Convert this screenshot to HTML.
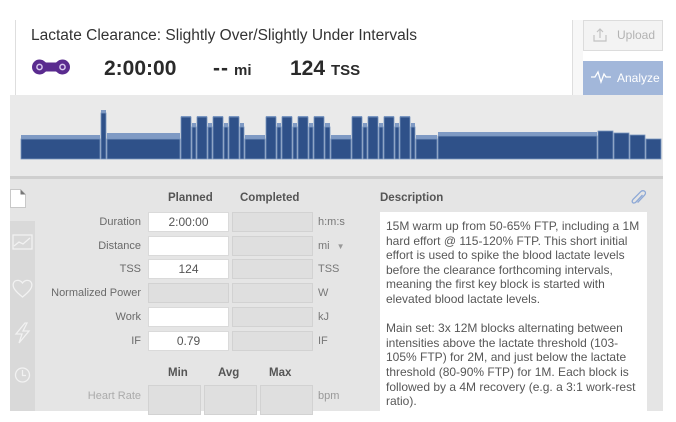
<!DOCTYPE html>
<html><head><meta charset="utf-8"><style>
*{margin:0;padding:0;box-sizing:border-box}
html,body{width:676px;height:411px;overflow:hidden;background:#fff;font-family:"Liberation Sans",Arial,sans-serif;}
.a{position:absolute}
.lbl{position:absolute;left:0;width:141px;text-align:right;font-size:11px;color:#6a6a6a;height:20px;line-height:20px;white-space:nowrap}
.unit{position:absolute;left:318px;font-size:11px;color:#777;height:20px;line-height:20px}
.inw{position:absolute;left:148px;width:81px;height:20px;background:#fff;border:1px solid #dadada;text-align:center;font-size:12px;color:#555;line-height:18px}
.ing{position:absolute;width:81px;height:20px;background:#dfdfdf;border:1px solid #d2d2d2}
.hd{position:absolute;font-size:11.5px;font-weight:bold;color:#555;white-space:nowrap}
.desc{position:absolute;left:386px;top:219px;font-size:12px;line-height:14.6px;color:#575757;white-space:nowrap}
</style></head><body>

<!-- top card -->
<div class="a" style="left:15px;top:20px;width:558px;height:75px;background:#fff;border-left:1px solid #dedede;border-right:1px solid #dedede;"></div>
<div class="a" style="left:573px;top:20px;width:10px;height:75px;background:#f7f7f7;"></div>
<div class="a" style="left:31px;top:27px;font-size:15.5px;line-height:18px;color:#333;white-space:nowrap;">Lactate Clearance: Slightly Over/Slightly Under Intervals</div>

<svg class="a" style="left:30px;top:58px" width="44" height="18" viewBox="0 0 44 18">
  <path d="M9.5 1.5 C13 1.5 14.5 3.5 16 4.5 L26 4.5 C27.5 3.5 29 1.5 32.5 1.5 A7.5 7.5 0 0 1 32.5 16.5 C29 16.5 27.5 14.5 26 13.5 L16 13.5 C14.5 14.5 13 16.5 9.5 16.5 A7.5 7.5 0 0 1 9.5 1.5 Z" fill="#5a2b8f"/>
  <circle cx="9.5" cy="9" r="2.6" fill="none" stroke="#d8c8ee" stroke-width="1.5"/>
  <circle cx="32.5" cy="9" r="2.6" fill="none" stroke="#d8c8ee" stroke-width="1.5"/>
</svg>
<div class="a" style="left:104px;top:58px;font-size:21px;line-height:22px;font-weight:bold;color:#2a2a2a;">2:00:00</div>
<div class="a" style="left:213px;top:58px;font-size:21px;line-height:22px;font-weight:bold;color:#2a2a2a;letter-spacing:1px;">--</div>
<div class="a" style="left:234px;top:62px;font-size:15px;line-height:18px;font-weight:bold;color:#2a2a2a;">mi</div>
<div class="a" style="left:290px;top:58px;font-size:21px;line-height:22px;font-weight:bold;color:#2a2a2a;">124</div>
<div class="a" style="left:331px;top:62px;font-size:15px;line-height:18px;font-weight:bold;color:#2a2a2a;">TSS</div>

<!-- buttons -->
<div class="a" style="left:583px;top:20px;width:80px;height:31px;background:#f3f3f3;border:1px solid #dcdcdc;"></div>
<svg class="a" style="left:592px;top:27px" width="16" height="16" viewBox="0 0 16 16">
  <path d="M2 8 V14 H14 V8" fill="none" stroke="#c2c2c2" stroke-width="1.2"/>
  <path d="M8 11 V2 M5 5 L8 2 L11 5" fill="none" stroke="#c2c2c2" stroke-width="1.2"/>
</svg>
<div class="a" style="left:617px;top:27px;font-size:12px;line-height:16px;color:#b3b3b3;">Upload</div>
<div class="a" style="left:583px;top:61px;width:80px;height:34px;background:#a2b7da;"></div>
<svg class="a" style="left:590px;top:70px" width="22" height="14" viewBox="0 0 22 14">
  <path d="M1 7 H5 L8 2 L11 12 L14 4 L16 7 H21" fill="none" stroke="#fff" stroke-width="1.3"/>
</svg>
<div class="a" style="left:617px;top:70px;font-size:12px;line-height:16px;color:#fff;">Analyze</div>

<!-- chart area -->
<div class="a" style="left:10px;top:95px;width:653px;height:81px;background:#eaeaea;"></div>
<div class="a" style="left:10px;top:176px;width:653px;height:3px;background:#cfcfcf;"></div>
<svg class="a" style="left:0;top:0" width="676" height="180" viewBox="0 0 676 180">
<g fill="#7f9ac4">
<rect x="21" y="135" width="79" height="24"/>
<rect x="101" y="110" width="5" height="49"/>
<rect x="107" y="133" width="73" height="26"/>
<rect x="181" y="116" width="10" height="43"/><rect x="192" y="123" width="4" height="36"/>
<rect x="197" y="116" width="10" height="43"/><rect x="208" y="123" width="4" height="36"/>
<rect x="213" y="116" width="10" height="43"/><rect x="224" y="123" width="4" height="36"/>
<rect x="229" y="116" width="10" height="43"/><rect x="240" y="123" width="4" height="36"/>
<rect x="245" y="135" width="20" height="24"/>
<rect x="266" y="116" width="10" height="43"/><rect x="277" y="123" width="4" height="36"/>
<rect x="282" y="116" width="10" height="43"/><rect x="293" y="123" width="4" height="36"/>
<rect x="298" y="116" width="10" height="43"/><rect x="309" y="123" width="4" height="36"/>
<rect x="314" y="116" width="10" height="43"/><rect x="325" y="123" width="5" height="36"/>
<rect x="331" y="135" width="20" height="24"/>
<rect x="352" y="116" width="10" height="43"/><rect x="363" y="123" width="4" height="36"/>
<rect x="368" y="116" width="10" height="43"/><rect x="379" y="123" width="4" height="36"/>
<rect x="384" y="116" width="10" height="43"/><rect x="395" y="123" width="4" height="36"/>
<rect x="400" y="116" width="10" height="43"/><rect x="411" y="123" width="4" height="36"/>
<rect x="416" y="135" width="21" height="24"/>
<rect x="438" y="132" width="159" height="27"/>
</g>
<g fill="#2f5189" stroke="#7994be" stroke-width="0.8">
<rect x="21" y="139" width="79" height="20"/>
<rect x="101" y="113" width="5" height="46"/>
<rect x="107" y="139" width="73" height="20"/>
<rect x="181" y="117" width="10" height="42"/><rect x="192" y="127" width="4" height="32"/>
<rect x="197" y="117" width="10" height="42"/><rect x="208" y="127" width="4" height="32"/>
<rect x="213" y="117" width="10" height="42"/><rect x="224" y="127" width="4" height="32"/>
<rect x="229" y="117" width="10" height="42"/><rect x="240" y="127" width="4" height="32"/>
<rect x="245" y="139" width="20" height="20"/>
<rect x="266" y="117" width="10" height="42"/><rect x="277" y="127" width="4" height="32"/>
<rect x="282" y="117" width="10" height="42"/><rect x="293" y="127" width="4" height="32"/>
<rect x="298" y="117" width="10" height="42"/><rect x="309" y="127" width="4" height="32"/>
<rect x="314" y="117" width="10" height="42"/><rect x="325" y="127" width="5" height="32"/>
<rect x="331" y="139" width="20" height="20"/>
<rect x="352" y="117" width="10" height="42"/><rect x="363" y="127" width="4" height="32"/>
<rect x="368" y="117" width="10" height="42"/><rect x="379" y="127" width="4" height="32"/>
<rect x="384" y="117" width="10" height="42"/><rect x="395" y="127" width="4" height="32"/>
<rect x="400" y="117" width="10" height="42"/><rect x="411" y="127" width="4" height="32"/>
<rect x="416" y="139" width="21" height="20"/>
<rect x="438" y="136" width="159" height="23"/>
<rect x="598" y="131" width="15" height="28"/>
<rect x="614" y="133" width="15" height="26"/>
<rect x="630" y="135" width="15" height="24"/>
<rect x="646" y="139" width="15" height="20"/>
</g>
</svg>

<!-- lower panel -->
<div class="a" style="left:10px;top:179px;width:653px;height:232px;background:#e5e5e5;"></div>
<div class="a" style="left:10px;top:221px;width:25px;height:190px;background:#d9d9d9;"></div>
<svg class="a" style="left:9px;top:189px" width="18" height="19" viewBox="0 0 18 19">
  <path d="M1.5 0.5 H11.5 L16.5 5.5 V18.5 H1.5 Z" fill="#fff" stroke="#c8c8c8" stroke-width="1"/>
  <path d="M11.5 0.5 V5.5 H16.5 Z" fill="#777"/>
</svg>
<svg class="a" style="left:10px;top:230px" width="25" height="160" viewBox="0 0 25 160">
  <g fill="none" stroke="#f2f2f2" stroke-width="1.3">
    <rect x="3" y="5" width="19" height="14"/>
    <path d="M4 16 L9 12 L13 14 L20 8"/>
    <path d="M12.5 67 C5 61 2 57 3.5 53 C5 49.5 10 49.5 12.5 53 C15 49.5 20 49.5 21.5 53 C23 57 20 61 12.5 67 Z"/>
    <path d="M15 93 L6 104 H12 L9 113 L19 101 H13 L17 93 Z"/>
    <circle cx="12.5" cy="145" r="7"/>
    <path d="M12.5 140 V145.5 H16"/>
  </g>
</svg>

<div class="hd" style="left:168px;top:192px;">Planned</div>
<div class="hd" style="left:240px;top:192px;">Completed</div>

<div class="lbl" style="top:212px;">Duration</div>
<div class="inw" style="top:212px;">2:00:00</div>
<div class="ing" style="left:232px;top:212px;"></div>
<div class="unit" style="top:212px;">h:m:s</div>

<div class="lbl" style="top:236px;">Distance</div>
<div class="inw" style="top:236px;"></div>
<div class="ing" style="left:232px;top:236px;"></div>
<div class="unit" style="top:236px;">mi <span style="font-size:8px;color:#999;margin-left:4px;">&#9660;</span></div>

<div class="lbl" style="top:259px;">TSS</div>
<div class="inw" style="top:259px;">124</div>
<div class="ing" style="left:232px;top:259px;"></div>
<div class="unit" style="top:259px;">TSS</div>

<div class="lbl" style="top:283px;">Normalized Power</div>
<div class="ing" style="left:148px;top:283px;"></div>
<div class="ing" style="left:232px;top:283px;"></div>
<div class="unit" style="top:283px;">W</div>

<div class="lbl" style="top:307px;">Work</div>
<div class="inw" style="top:307px;"></div>
<div class="ing" style="left:232px;top:307px;"></div>
<div class="unit" style="top:307px;">kJ</div>

<div class="lbl" style="top:331px;">IF</div>
<div class="inw" style="top:331px;">0.79</div>
<div class="ing" style="left:232px;top:331px;"></div>
<div class="unit" style="top:331px;">IF</div>

<div class="hd" style="left:168px;top:367px;">Min</div>
<div class="hd" style="left:218px;top:367px;">Avg</div>
<div class="hd" style="left:269px;top:367px;">Max</div>

<div class="lbl" style="top:386px;color:#ababab;">Heart Rate</div>
<div class="ing" style="left:148px;top:385px;width:53px;height:30px;"></div>
<div class="ing" style="left:204px;top:385px;width:53px;height:30px;"></div>
<div class="ing" style="left:260px;top:385px;width:53px;height:30px;"></div>
<div class="unit" style="top:386px;color:#999;">bpm</div>

<!-- description -->
<div class="hd" style="left:380px;top:192px;">Description</div>
<svg class="a" style="left:631px;top:190px" width="16" height="17" viewBox="0 0 16 17">
  <path d="M11.5 5 L5 12 C3.8 13.3 2.2 13.3 1.6 12.5 C1 11.7 1.1 10.4 2.2 9.2 L9.8 1.6 C11 0.4 12.8 0.4 13.8 1.4 C14.8 2.4 14.6 4 13.5 5.2 L6.6 12.6" fill="none" stroke="#8ea9d6" stroke-width="1.3"/>
</svg>
<div class="a" style="left:380px;top:212px;width:267px;height:210px;background:#fff;"></div>
<div class="desc">15M warm up from 50-65% FTP, including a 1M<br>hard effort @ 115-120% FTP. This short initial<br>effort is used to spike the blood lactate levels<br>before the clearance forthcoming intervals,<br>meaning the first key block is started with<br>elevated blood lactate levels.<br><br>Main set: 3x 12M blocks alternating between<br>intensities above the lactate threshold (103-<br>105% FTP) for 2M, and just below the lactate<br>threshold (80-90% FTP) for 1M. Each block is<br>followed by a 4M recovery (e.g. a 3:1 work-rest<br>ratio).</div>

</body></html>
